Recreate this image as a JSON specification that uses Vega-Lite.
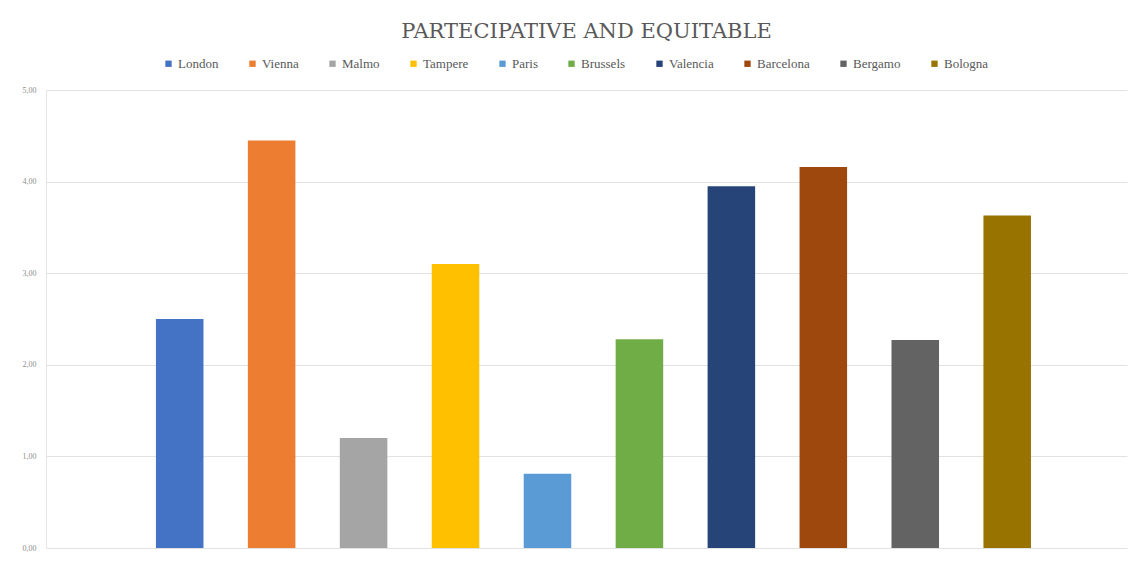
{
  "$schema": "https://vega.github.io/schema/vega-lite/v6.json",
  "autosize": "none",
  "width": 1081,
  "height": 458,
  "padding": {"left": 46, "top": 90, "right": 21, "bottom": 15},
  "background": "white",
  "title": {
    "text": "PARTECIPATIVE AND EQUITABLE",
    "font": "DejaVu Serif",
    "fontSize": 21,
    "fontWeight": "normal",
    "color": "#595959",
    "anchor": "middle",
    "offset": 15
  },
  "data": {
    "values": [
      {"city": "London", "value": 2.50},
      {"city": "Vienna", "value": 4.45},
      {"city": "Malmo", "value": 1.20},
      {"city": "Tampere", "value": 3.10},
      {"city": "Paris", "value": 0.81},
      {"city": "Brussels", "value": 2.28},
      {"city": "Valencia", "value": 3.95},
      {"city": "Barcelona", "value": 4.16},
      {"city": "Bergamo", "value": 2.27},
      {"city": "Bologna", "value": 3.63}
    ]
  },
  "mark": {"type": "bar"},
  "encoding": {
    "x": {
      "field": "city",
      "type": "nominal",
      "sort": null,
      "axis": null,
      "scale": {
        "domain": ["_start", "London", "Vienna", "Malmo", "Tampere", "Paris", "Brussels", "Valencia", "Barcelona", "Bergamo", "Bologna", "_end"],
        "paddingInner": 0.483,
        "paddingOuter": 0.12,
        "align": 0.815
      }
    },
    "y": {
      "field": "value",
      "type": "quantitative",
      "scale": {"domain": [0, 5], "nice": false},
      "axis": {
        "title": null,
        "values": [0, 1, 2, 3, 4, 5],
        "labelExpr": "replace(format(datum.value, '.2f'), '.', ',')",
        "labelFont": "Liberation Serif",
        "labelFontSize": 8,
        "labelColor": "#8c8c8c",
        "labelPadding": 10,
        "ticks": false,
        "domain": true,
        "domainColor": "#e6e6e6",
        "grid": true,
        "gridColor": "#e2e2e2",
        "gridWidth": 1
      }
    },
    "color": {
      "field": "city",
      "type": "nominal",
      "sort": null,
      "scale": {
        "domain": ["London", "Vienna", "Malmo", "Tampere", "Paris", "Brussels", "Valencia", "Barcelona", "Bergamo", "Bologna"],
        "range": ["#4472C4", "#ED7D31", "#A5A5A5", "#FFC000", "#5B9BD5", "#70AD47", "#264478", "#9E480E", "#636363", "#997300"]
      },
      "legend": {
        "title": null,
        "orient": "none",
        "legendX": 116,
        "legendY": -33,
        "direction": "horizontal",
        "columns": 10,
        "symbolType": "square",
        "symbolSize": 40,
        "symbolStrokeWidth": 0,
        "labelFont": "Liberation Serif",
        "labelFontSize": 13,
        "labelColor": "#595959",
        "labelOffset": 3,
        "columnPadding": 27
      }
    }
  },
  "config": {
    "view": {"stroke": null},
    "axisX": {"domain": false}
  }
}
